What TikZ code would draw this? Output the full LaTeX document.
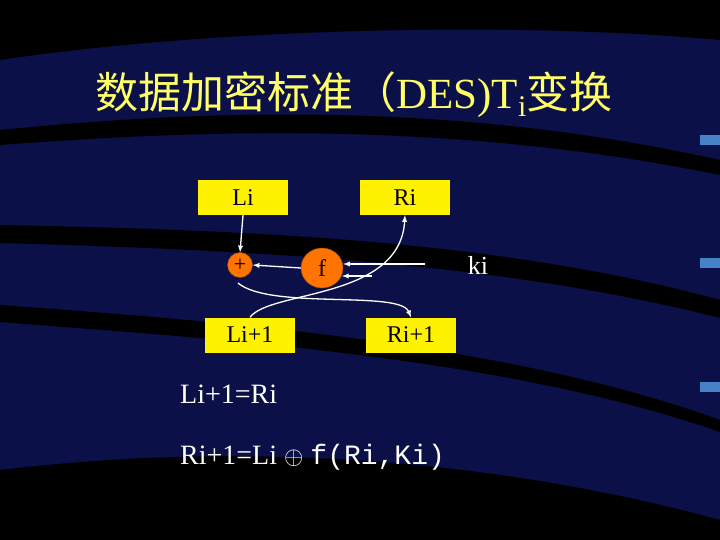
\documentclass[tikz,border=0pt]{standalone}
\usepackage{fontspec}
\usetikzlibrary{shapes.geometric}
\setmainfont{Liberation Serif}
\newfontfamily\cjk{Noto Sans CJK SC}
\newfontfamily\monof{Liberation Mono}
\definecolor{bgnavy}{RGB}{12,16,72}
\definecolor{barblue}{RGB}{70,130,200}
\definecolor{titley}{RGB}{255,255,102}
\begin{document}
\begin{tikzpicture}[x=1pt,y=-1pt,
  box/.style={fill=yellow,minimum width=90pt,minimum height=35pt,inner sep=0pt,font=\fontsize{24}{26}\selectfont},
  orn/.style={fill=orange!90!red,draw=orange!60!black,inner sep=0pt},
  wl/.style={draw=white,line width=1.3pt,-latex},
  wt/.style={text=white,font=\fontsize{28}{30}\selectfont,anchor=west,inner sep=0pt}]
\fill[bgnavy] (0,0) rectangle (720,540);
\useasboundingbox (0,0) rectangle (720,540);
\fill[black] (0,0) -- (720,0) -- (720,40) .. controls (500,20) and (200,30) .. (0,60) -- cycle;
\fill[black] (0,130) .. controls (200,110) and (450,100) .. (720,160) -- (720,175) .. controls (450,120) and (200,130) .. (0,145) -- cycle;
\fill[black] (0,225) .. controls (250,230) and (500,240) .. (720,300) -- (720,318) .. controls (500,262) and (250,250) .. (0,243) -- cycle;
\fill[black] (0,305) .. controls (200,320) and (500,340) .. (720,420) -- (720,432) .. controls (500,355) and (200,338) .. (0,322) -- cycle;
\fill[black] (0,470) .. controls (250,440) and (500,460) .. (720,520) -- (720,540) -- (0,540) -- cycle;
\foreach \yy in {135,258,382} \fill[barblue] (700,\yy) rectangle (720,\yy+10);
\node[text=titley,anchor=west,inner sep=0pt] (title) at (95,95)
  {\fontsize{43}{45}\selectfont{\cjk 数据加密标准（}DES)T\raisebox{-8pt}{\fontsize{30}{30}\selectfont i}{\cjk 变换}};
\node[box] (li) at (243,197.5) {Li};
\node[box] (ri) at (405,197.5) {Ri};
\node[box] (li1) at (250,335) {Li+1};
\node[box] (ri1) at (411,335) {Ri+1};
\node[orn,circle,minimum size=25pt,font=\fontsize{22}{22}\selectfont] (xor) at (240,265) {+};
\node[orn,ellipse,minimum width=42pt,minimum height=40pt,font=\fontsize{24}{24}\selectfont] (f) at (322,268) {f};
\node[text=white,font=\fontsize{26}{28}\selectfont] (ki) at (478,265) {ki};
\coordinate (kin) at (425,264);
\coordinate (c1) at (238,283);
\coordinate (c2) at (372,276);
\coordinate (c3) at (342,276);
\draw[wl] (li.south) -- (xor.north);
\draw[wl] (f.west) -- (xor.east);
\draw[wl] (kin) -- (f.east |- kin);
\draw[wl] (c1) .. controls (270,310) and (400,290) .. (ri1.north);
\draw[wl] (li1.north) .. controls (270,290) and (400,300) .. (ri.south);
\draw[wl] (c2) -- (c3);
\node[wt] (eq1) at (180,394) {Li+1=Ri};
\node[wt] (eq2) at (180,457) {Ri+1=Li {\fontsize{26}{26}\selectfont$\oplus$} {\monof f(Ri,Ki)}};
\end{tikzpicture}
\end{document}
